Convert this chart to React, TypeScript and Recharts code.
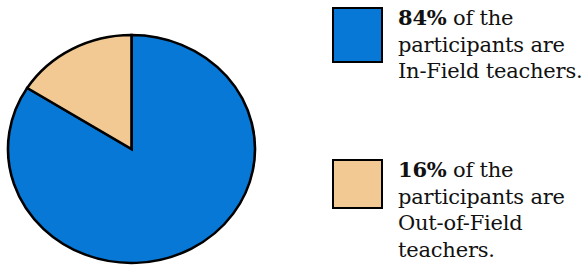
import { PieChart, Pie, Cell, Legend } from 'recharts';

const GROUPS = ['In-Field', 'Out-of-Field'];
const SHARES = [84, 16];
const COLORS = ['#0778D5', '#F2C993'];
// how each legend caption ends, line by line
const CAPTION_TAILS = [['In-Field teachers.'], ['Out-of-Field', 'teachers.']];

const pieData = GROUPS.map((name, i) => ({ name, value: SHARES[i], color: COLORS[i], tail: CAPTION_TAILS[i] }));

// blue slice starts where the tan one ends, tan wedge sits just left of 12 o'clock
const START = 90 + (360 * SHARES[1]) / 100;

const SQUARES = [
  { top: 7, h: 56 },
  { top: 159, h: 50 },
];

function LegendBox({ payload }: any) {
  return (
    <div style={{ position: 'relative', width: 250, height: 270 }}>
      {(payload || []).map((entry: any, i: number) => {
        const d = entry.payload;
        return (
          <div key={i} style={{ position: 'absolute', left: 0, top: SQUARES[i].top }}>
            <div
              style={{
                position: 'absolute',
                left: 0,
                top: 0,
                width: 51,
                height: SQUARES[i].h,
                boxSizing: 'border-box',
                border: '2px solid #000',
                background: d.color,
              }}
            />
            <div
              style={{
                position: 'absolute',
                left: 66,
                top: -2,
                whiteSpace: 'nowrap',
                fontFamily: '"DejaVu Serif", serif',
                fontSize: 21,
                letterSpacing: -0.2,
                lineHeight: '26.5px',
                color: '#111',
              }}
            >
              <div>
                <b>{d.value}%</b> of the
              </div>
              <div>participants are</div>
              {d.tail.map((t: string) => (
                <div key={t}>{t}</div>
              ))}
            </div>
          </div>
        );
      })}
    </div>
  );
}

export default function App() {
  return (
    <div style={{ position: 'absolute', left: 0, top: 0, width: 582, height: 274, background: '#fff' }}>
      <style>{`.recharts-pie { transform: scaleY(0.923); transform-origin: 131.5px 149px; }`}</style>
      <PieChart width={582} height={274} margin={{ top: 0, right: 0, bottom: 0, left: 0 }}>
        <Pie
          data={pieData}
          dataKey="value"
          nameKey="name"
          cx={131.5}
          cy={149}
          outerRadius={123.5}
          startAngle={START}
          endAngle={START + 360}
          stroke="#000"
          strokeWidth={2.6}
          isAnimationActive={false}
        >
          {pieData.map((entry, index) => (
            <Cell key={index} fill={entry.color} />
          ))}
        </Pie>
        <Legend
          layout="vertical"
          content={<LegendBox />}
          wrapperStyle={{ left: 332, top: 0, width: 250 }}
        />
      </PieChart>
    </div>
  );
}
